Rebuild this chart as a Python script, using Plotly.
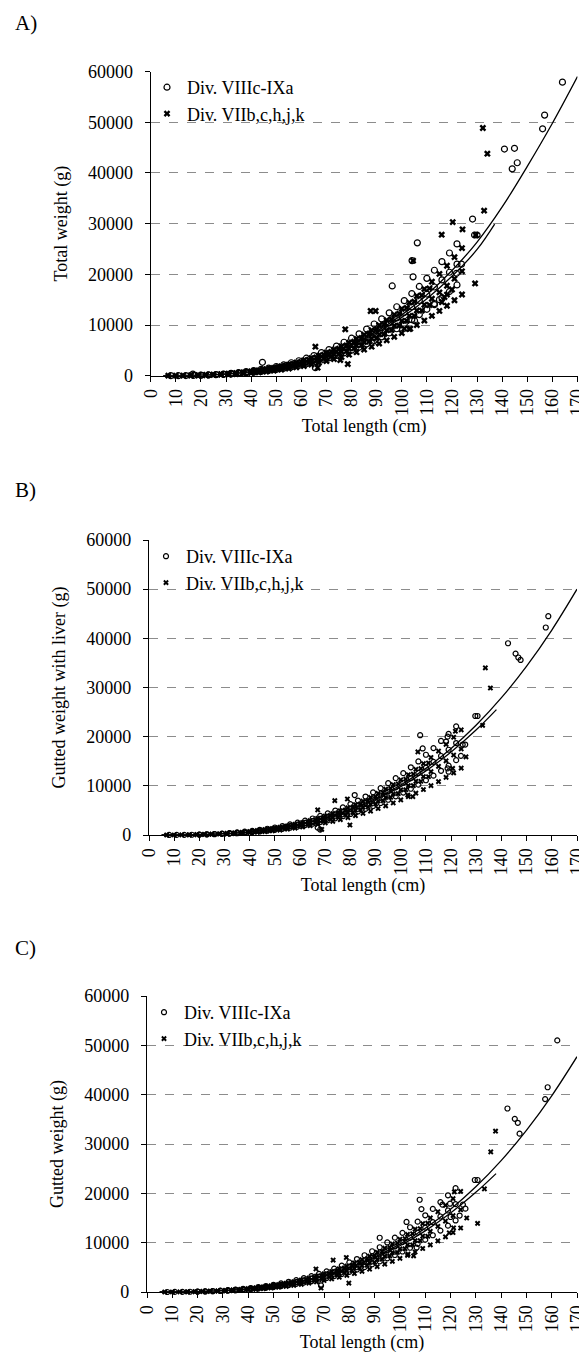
import plotly.graph_objects as go

# ---------------- data ----------------
# Length classes of the dense band of points (cm)
band1_len = [8, 11, 14, 17, 20, 23, 26, 29, 32, 35, 38, 41, 44, 47, 50, 53, 56, 59, 62, 65,
             68, 71, 74, 77, 80, 83, 86, 89, 92, 95, 98, 101, 104, 107, 110, 113, 116, 119, 122]
band2_len = [7, 10, 13, 16, 19, 22, 25, 28, 31, 34, 37, 40, 43, 46, 49, 52, 55, 58, 61, 64,
             67, 70, 73, 76, 79, 82, 85, 88, 91, 94, 97, 100, 103, 106, 109, 112, 115, 118, 121, 124]
band3_len = [42, 45, 48, 51, 54, 57, 60, 63, 66, 69, 72, 75, 78, 81, 84, 87, 90, 93, 96, 99,
             102, 105, 108, 111]

# Panel A - total weight (g)
A_band1_wt = [
    [6], [16], [33], [59],
    [90, 110], [140, 170], [190, 240], [260, 330],
    [330, 400, 470], [430, 520, 620], [540, 660, 800], [680, 840, 1000],
    [840, 1030, 1250], [1020, 1260, 1500], [1230, 1520, 1800], [1470, 1800, 2150],
    [1730, 2130, 2550], [2020, 2490, 2950], [2350, 2890, 3450], [2700, 3330, 3950],
    [3100, 3800, 4550], [3520, 4340, 5150], [3990, 4900, 5850], [4490, 5530, 6600],
    [5040, 6200, 7400], [5630, 6930, 8250], [6260, 7700, 9200], [6940, 8540, 10200],
    [7660, 9440, 11200], [8440, 10400, 12400], [9260, 11400, 13600], [10140, 12500, 14800],
    [11070, 13600, 16200], [12050, 14850, 17600], [13100, 16100, 19200], [14200, 17500, 20800],
    [15360, 18900, 22500], [16600, 20400, 24200], [17900, 22000, 26000]]
A_band2_wt = [
    [5], [12], [25],
    [45, 55], [75, 90], [115, 140], [170, 205], [235, 290],
    [250, 320, 390], [330, 425, 520], [425, 547, 669], [538, 691, 845],
    [668, 859, 1049], [818, 1051, 1285], [988, 1271, 1553], [1181, 1518, 1856],
    [1398, 1797, 2197], [1639, 2107, 2575], [1907, 2452, 2996], [2202, 2831, 3461],
    [2526, 3248, 3970], [2881, 3704, 4528], [3268, 4201, 5135], [3688, 4741, 5795],
    [4141, 5324, 6508], [4632, 5955, 7279], [5159, 6633, 8107], [5724, 7359, 8995],
    [6330, 8139, 9947], [6977, 8970, 10964], [7666, 9857, 12047], [8400, 10800, 13200],
    [9178, 11800, 14422], [10004, 12862, 15720], [10878, 13986, 17094], [11801, 15173, 18545],
    [12776, 16426, 20076], [13801, 17744, 21688], [14881, 19132, 23384], [16015, 20591, 25167]]
A_band3_wt = [
    [756, 933], [929, 1148], [1128, 1393], [1353, 1672], [1607, 1985], [1889, 2333],
    [2203, 2722], [2551, 3151], [2933, 3623], [3351, 4139], [3807, 4703], [4304, 5316],
    [4841, 5980], [5420, 6696], [6045, 7468], [6717, 8297], [7436, 9185], [8205, 10136],
    [9024, 11148], [9896, 12224], [10824, 13371], [11807, 14586], [12849, 15872], [13949, 17232]]
A_out1_len = [16.8, 44.5, 65.6, 90.4, 96.2, 105.1, 106.2, 104.1, 104.5, 113, 115, 121.8,
              123.8, 128.2, 129, 130, 140.9, 144, 144.9, 146, 156.1, 156.9, 164]
A_out1_wt = [330, 2640, 1580, 6700, 17700, 10850, 26200, 22700, 19500, 14000, 15000, 20200,
             22000, 30900, 27750, 27750, 44700, 40800, 44850, 42000, 48700, 51400, 57900]
A_out2_len = [54.7, 66.5, 65.6, 75.5, 78.5, 77.5, 87.6, 89.6, 101, 103.4, 104.5, 115.9,
              120.3, 124.2, 132.8, 129.2, 132.3, 134.1, 129.5, 116, 118, 120, 117]
A_out2_wt = [-200, 1580, 5720, 3100, 2300, 9150, 12760, 12760, 9270, 9270, 22680, 27810,
             30300, 28870, 32550, 18200, 48860, 43790, 27750, 14500, 16000, 17000, 15500]
A_fit1_len = [5, 10, 20, 30, 40, 50, 60, 70, 80, 90, 100, 110, 120, 130, 140, 150, 160, 170]
A_fit1_wt = [2, 12, 96, 324, 768, 1500, 2592, 4116, 6144, 8748, 12000, 15972, 20736, 26364,
             33300, 41300, 49800, 59000]
A_fit2_len = [5, 10, 20, 30, 40, 50, 60, 70, 80, 90, 100, 110, 120, 130, 137]
A_fit2_wt = [2, 14, 105, 340, 790, 1520, 2590, 4060, 6000, 8450, 11500, 15200, 19600, 24900, 29900]

# Panel B - gutted weight with liver (g)
B_band1_wt = [
    [8], [17], [34], [50],
    [77, 94], [119, 145], [160, 205], [220, 280],
    [280, 340, 400], [365, 440, 525], [460, 560, 680], [580, 715, 850],
    [715, 875, 1060], [870, 1070, 1275], [1045, 1290, 1530], [1250, 1530, 1830],
    [1470, 1810, 2170], [1720, 2120, 2510], [2000, 2460, 2930], [2300, 2830, 3360],
    [2640, 3230, 3870], [2990, 3690, 4380], [3390, 4170, 4970], [3820, 4700, 5610],
    [4280, 5270, 6290], [4790, 5890, 7010], [5320, 6550, 7820], [5900, 7260, 8670],
    [6510, 8020, 9520], [7170, 8840, 10540], [7870, 9690, 11560], [8620, 10630, 12580],
    [9410, 11560, 13770], [10240, 12620, 14960], [11140, 13690, 16320], [12070, 14880, 17680],
    [13060, 16070, 19130], [14110, 17340, 20570], [15220, 18700, 22100]]
B_band2_wt = [
    [4], [10], [21],
    [38, 47], [64, 77], [98, 119], [145, 174], [200, 247],
    [213, 272, 332], [281, 361, 442], [361, 465, 569], [457, 587, 718],
    [568, 730, 892], [695, 893, 1092], [840, 1080, 1320], [1004, 1290, 1578],
    [1188, 1527, 1867], [1393, 1791, 2189], [1621, 2084, 2547], [1872, 2406, 2942],
    [2147, 2761, 3375], [2449, 3148, 3849], [2778, 3571, 4365], [3135, 4030, 4926],
    [3520, 4525, 5532], [3937, 5062, 6187], [4385, 5638, 6891], [4865, 6255, 7646],
    [5381, 6918, 8455], [5930, 7625, 9319], [6516, 8378, 10240], [7140, 9180, 11220],
    [7801, 10030, 12259], [8503, 10933, 13362], [9246, 11888, 14530], [10031, 12897, 15763],
    [10860, 13962, 17065], [11731, 15082, 18435], [12649, 16262, 19876], [13613, 17502, 21392]]
B_band3_wt = [
    [643, 793], [790, 976], [959, 1184], [1150, 1421], [1366, 1687], [1606, 1983],
    [1873, 2314], [2168, 2678], [2493, 3080], [2848, 3518], [3236, 3998], [3658, 4519],
    [4115, 5083], [4607, 5692], [5138, 6348], [5709, 7052], [6321, 7807], [6974, 8616],
    [7670, 9476], [8412, 10390], [9200, 11365], [10036, 12398], [10922, 13491], [11857, 14647]]
B_out1_len = [158.6, 157.6, 142.6, 145.6, 146.7, 147.6, 129.6, 130.5, 107.7, 108.7, 118.6,
              118, 124.6, 125.6, 123.9, 118.6, 119, 81.7, 67, 68]
B_out1_wt = [44500, 42200, 39000, 36900, 36100, 35600, 24200, 24200, 20300, 17600, 20000,
             19000, 18400, 18400, 16100, 13550, 12870, 8130, 1500, 1100]
B_out2_len = [133.6, 135.6, 132.5, 121.7, 106.8, 125.9, 120.6, 102.8, 104.8, 79.8, 68.6, 73.8, 78.8, 67]
B_out2_wt = [34000, 29900, 22300, 21100, 16900, 15900, 13550, 8130, 7790, 2030, 1150, 6980, 7320, 5100]
B_fit1_len = [5, 10, 20, 30, 40, 50, 60, 70, 80, 90, 100, 110, 120, 130, 140, 150, 160, 170]
B_fit1_wt = [1, 10, 81, 275, 651, 1272, 2198, 3490, 5210, 7418, 10177, 13545, 17585, 22360,
             27930, 34350, 41690, 50000]
B_fit2_len = [5, 10, 20, 30, 40, 50, 60, 70, 80, 90, 100, 110, 120, 130, 138]
B_fit2_wt = [1, 11, 85, 280, 655, 1265, 2170, 3430, 5090, 7200, 9850, 13050, 16900, 21400, 25500]

# Panel C - gutted weight (g)
C_band1_wt = [
    [5], [16], [32], [48],
    [73, 89], [113, 138], [154, 194], [211, 267],
    [267, 324, 381], [348, 421, 502], [437, 535, 648], [551, 680, 810],
    [680, 834, 1013], [826, 1021, 1215], [996, 1231, 1458], [1191, 1458, 1742],
    [1401, 1725, 2066], [1636, 2017, 2390], [1904, 2341, 2795], [2187, 2697, 3200],
    [2511, 3078, 3686], [2851, 3515, 4172], [3232, 3969, 4739], [3637, 4479, 5346],
    [4082, 5022, 5994], [4560, 5613, 6683], [5071, 6237, 7452], [5621, 6917, 8262],
    [6205, 7646, 9072], [6836, 8424, 10044], [7501, 9234, 11016], [8213, 10125, 11988],
    [8967, 11016, 13122], [9761, 12029, 14256], [10611, 13041, 15552], [11502, 14175, 16848],
    [12442, 15309, 18225], [13446, 16524, 19602], [14499, 17820, 21060]]
C_band2_wt = [
    [4], [10], [20],
    [36, 45], [61, 73], [93, 113], [138, 166], [190, 235],
    [203, 259, 316], [267, 344, 421], [344, 443, 542], [436, 560, 684],
    [541, 696, 850], [663, 851, 1041], [800, 1030, 1258], [957, 1230, 1503],
    [1132, 1456, 1780], [1328, 1707, 2086], [1545, 1986, 2427], [1784, 2293, 2803],
    [2046, 2631, 3216], [2334, 3000, 3668], [2647, 3403, 4159], [2987, 3840, 4694],
    [3354, 4312, 5271], [3752, 4824, 5896], [4179, 5373, 6567], [4636, 5961, 7286],
    [5127, 6593, 8057], [5651, 7266, 8881], [6209, 7984, 9758], [6804, 8748, 10692],
    [7434, 9558, 11682], [8103, 10418, 12733], [8811, 11329, 13846], [9559, 12290, 15021],
    [10349, 13305, 16262], [11179, 14373, 17567], [12054, 15497, 18941], [12972, 16679, 20385]]
C_band3_wt = [
    [612, 756], [752, 930], [914, 1128], [1096, 1354], [1302, 1608], [1530, 1890],
    [1784, 2205], [2066, 2552], [2376, 2935], [2714, 3353], [3084, 3809], [3486, 4306],
    [3921, 4844], [4390, 5424], [4896, 6049], [5441, 6721], [6023, 7440], [6646, 8210],
    [7309, 9030], [8016, 9901], [8767, 10831], [9564, 11815], [10408, 12856], [11299, 13958]]
C_out1_len = [162.2, 158.4, 157.4, 142.5, 145.4, 146.6, 147.3, 129.6, 130.7, 107.8, 108.5,
              116.8, 119.8, 124.9, 125.9, 123.6, 120, 106.6, 68.8, 102.6, 92]
C_out1_wt = [51000, 41500, 39100, 37200, 35100, 34300, 32100, 22700, 22700, 18700, 16800,
             17700, 17900, 17700, 16900, 15500, 15200, 9000, 1330, 14200, 11000]
C_out2_len = [137.8, 135.9, 133.4, 130.7, 121.5, 126.4, 119.5, 121.2, 103.2, 105.4, 79.8,
              68.8, 73.6, 78.8, 66.8]
C_out2_wt = [32600, 28400, 20900, 13900, 20300, 15000, 12000, 13000, 7670, 7330, 1800,
             800, 6470, 7000, 4670]
C_fit1_len = [5, 10, 20, 30, 40, 50, 60, 70, 80, 90, 100, 110, 120, 130, 140, 150, 160, 170]
C_fit1_wt = [1, 10, 78, 262, 621, 1214, 2097, 3330, 4970, 7080, 9710, 12920, 16780, 21330,
             26640, 32770, 39770, 47700]
C_fit2_len = [5, 10, 20, 30, 40, 50, 60, 70, 80, 90, 100, 110, 120, 130, 138]
C_fit2_wt = [1, 10, 82, 268, 625, 1205, 2070, 3270, 4850, 6870, 9370, 12400, 16000, 20200, 24000]

series_names = ["Div. VIIIc-IXa", "Div. VIIb,c,h,j,k"]
panel_labels = ["A)", "B)", "C)"]
y_titles = ["Total weight (g)", "Gutted weight with liver (g)", "Gutted weight (g)"]
x_title = "Total length (cm)"
x_ticks = [0, 10, 20, 30, 40, 50, 60, 70, 80, 90, 100, 110, 120, 130, 140, 150, 160, 170]
y_ticks = [0, 10000, 20000, 30000, 40000, 50000, 60000]

# ---------------- figure ----------------
OFF = 8                      # page body margin of the browser
W, H = 587 - OFF, 1363 - OFF
FONT = "Liberation Serif, Times New Roman, serif"


def fx(px):
    return (px - OFF) / W


def fy(py):
    return 1 - (py - OFF) / H


def flat(lens, groups):
    xs, ys = [], []
    for L, g in zip(lens, groups):
        for v in g:
            xs.append(L)
            ys.append(v)
    return xs, ys


panels = [
    dict(b1=A_band1_wt, b2=A_band2_wt, b3=A_band3_wt, o1=(A_out1_len, A_out1_wt),
         o2=(A_out2_len, A_out2_wt), f1=(A_fit1_len, A_fit1_wt), f2=(A_fit2_len, A_fit2_wt),
         xd=(150.7, 577.5), yd=(71.5, 375.7), ms=6, leg=(147, 69), lab=23),
    dict(b1=B_band1_wt, b2=B_band2_wt, b3=B_band3_wt, o1=(B_out1_len, B_out1_wt),
         o2=(B_out2_len, B_out2_wt), f1=(B_fit1_len, B_fit1_wt), f2=(B_fit2_len, B_fit2_wt),
         xd=(149, 577), yd=(540, 835), ms=5, leg=(146, 538), lab=490),
    dict(b1=C_band1_wt, b2=C_band2_wt, b3=C_band3_wt, o1=(C_out1_len, C_out1_wt),
         o2=(C_out2_len, C_out2_wt), f1=(C_fit1_len, C_fit1_wt), f2=(C_fit2_len, C_fit2_wt),
         xd=(147, 577), yd=(996, 1292), ms=5, leg=(144, 994), lab=948),
]

fig = go.Figure()
layout = dict(width=W, height=H, margin=dict(l=0, r=0, t=0, b=0, pad=0, autoexpand=False),
              paper_bgcolor="white", plot_bgcolor="white", showlegend=True,
              font=dict(family=FONT, size=18, color="black"))
annotations = []

for i, p in enumerate(panels):
    sfx = "" if i == 0 else str(i + 1)
    xa, ya = "x" + sfx, "y" + sfx
    legname = "legend" + sfx
    x1, y1 = flat(band1_len, p["b1"])
    x2, y2 = flat(band2_len, p["b2"])
    x3, y3 = flat(band3_len, p["b3"])
    x1 += list(p["o1"][0]); y1 += list(p["o1"][1])
    x2 += x3 + list(p["o2"][0]); y2 += y3 + list(p["o2"][1])
    fig.add_trace(go.Scatter(x=x1, y=y1, mode="markers", name=series_names[0],
                             xaxis=xa, yaxis=ya, legend=legname, cliponaxis=False,
                             marker=dict(symbol="circle-open", size=p["ms"], color="black",
                                         line=dict(width=1.2, color="black"))))
    fig.add_trace(go.Scatter(x=x2, y=y2, mode="markers", name=series_names[1],
                             xaxis=xa, yaxis=ya, legend=legname, cliponaxis=False,
                             marker=dict(symbol="x", size=p["ms"], color="black",
                                         line=dict(width=0))))
    for f in (p["f1"], p["f2"]):
        fig.add_trace(go.Scatter(x=f[0], y=f[1], mode="lines", showlegend=False,
                                 xaxis=xa, yaxis=ya, cliponaxis=False,
                                 line=dict(color="black", width=1.3, shape="spline")))

    xdom = [fx(p["xd"][0]), fx(p["xd"][1])]
    ydom = [fy(p["yd"][1]), fy(p["yd"][0])]
    layout["xaxis" + sfx] = dict(domain=xdom, anchor=ya, range=[0, 170], tickvals=x_ticks,
                                 tickangle=-90, ticks="outside", ticklen=5, tickcolor="black",
                                 ticklabeloverflow="allow",
                                 showline=True, linecolor="black", linewidth=1.3,
                                 showgrid=False, zeroline=False, automargin=False,
                                 title=dict(text=x_title, standoff=4,
                                            font=dict(family=FONT, size=18)),
                                 tickfont=dict(family=FONT, size=18))
    layout["yaxis" + sfx] = dict(domain=ydom, anchor=xa, range=[0, 60000], tickvals=y_ticks,
                                 tickformat="d", ticks="outside", ticklen=5, tickcolor="black",
                                 ticklabelstandoff=8, ticklabeloverflow="allow",
                                 showline=True, linecolor="black", linewidth=1.3,
                                 showgrid=True, gridcolor="#8c8c8c", griddash="dash",
                                 gridwidth=1, zeroline=False, automargin=False,
                                 title=dict(text=y_titles[i], standoff=15,
                                            font=dict(family=FONT, size=18)),
                                 tickfont=dict(family=FONT, size=18))
    layout[legname] = dict(x=fx(p["leg"][0]), y=fy(p["leg"][1]), xanchor="left",
                           yanchor="top", bgcolor="rgba(0,0,0,0)", tracegroupgap=0,
                           itemwidth=30, font=dict(family=FONT, size=18, color="black"))
    annotations.append(dict(text=panel_labels[i], x=fx(13), y=fy(p["lab"]),
                            xref="paper", yref="paper", xanchor="left", yanchor="middle",
                            showarrow=False, font=dict(family=FONT, size=21, color="black")))

layout["annotations"] = annotations
fig.update_layout(**layout)
fig.write_html("out.html")
